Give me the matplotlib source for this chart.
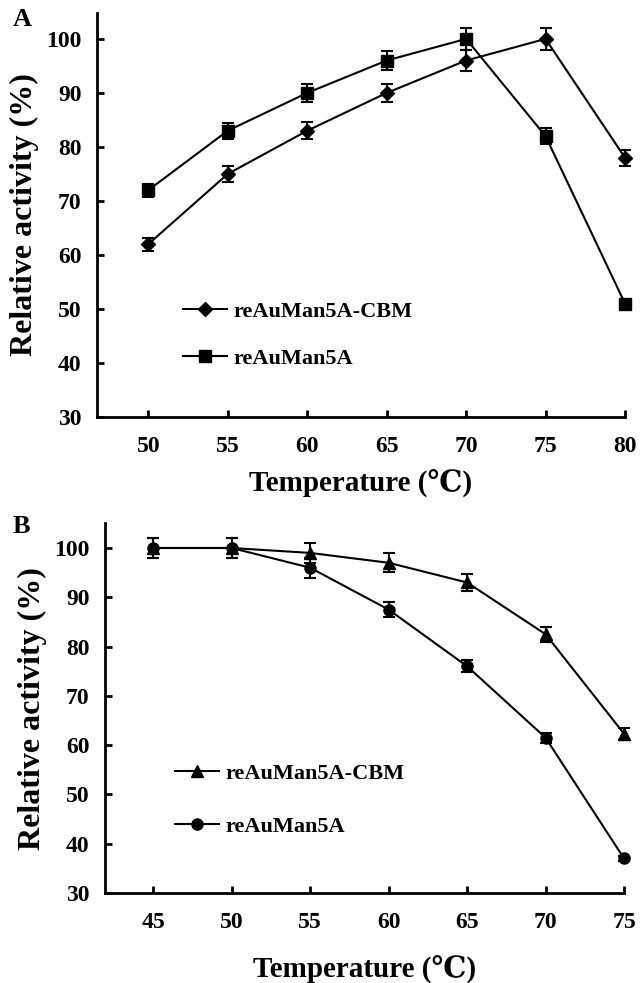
import numpy as np
import matplotlib.pyplot as plt

plt.rcParams['font.family'] = ['Liberation Serif', 'DejaVu Serif']
plt.rcParams['font.weight'] = 'bold'

# Panel A: optimal temperature
temp_a = [50, 55, 60, 65, 70, 75, 80]
cbm_a = [62, 75, 83, 90, 96, 100, 78]
cbm_a_err = [1.2, 1.5, 1.6, 1.7, 2.0, 2.0, 1.5]
man_a = [72, 83, 90, 96, 100, 82, 51]
man_a_err = [1.2, 1.5, 1.6, 1.8, 2.0, 1.5, 0.6]

# Panel B: thermostability
temp_b = [45, 50, 55, 60, 65, 70, 75]
cbm_b = [100, 100, 99, 97, 93, 82.5, 62.3]
cbm_b_err = [2.0, 2.0, 2.0, 1.9, 1.8, 1.5, 1.2]
man_b = [100, 100, 96, 87.5, 76, 61.5, 37]
man_b_err = [2.0, 2.0, 2.0, 1.5, 1.2, 1.0, 0.5]

yticks = [30, 40, 50, 60, 70, 80, 90, 100]

fig = plt.figure(figsize=(6.44, 9.83), dpi=100)
ax_a = fig.add_axes([0.1506, 0.5758, 0.8199, 0.411])
ax_b = fig.add_axes([0.163, 0.0916, 0.806, 0.376])


def draw(ax, x, s1, e1, m1, l1, s2, e2, m2, l2, xlim, ylim, ms1, ms2, xpad):
    for y, e, m, lab, ms in [(s1, e1, m1, l1, ms1), (s2, e2, m2, l2, ms2)]:
        ax.errorbar(x, y, yerr=e, color='black', marker=m, markersize=ms,
                    linewidth=1.5, elinewidth=1.5, capsize=4, capthick=1.5,
                    label=lab, clip_on=False)
    ax.set_xlim(*xlim)
    ax.set_ylim(*ylim)
    ax.set_xticks(x)
    ax.set_yticks(yticks)
    for side in ['top', 'right']:
        ax.spines[side].set_visible(False)
    for side in ['left', 'bottom']:
        ax.spines[side].set_linewidth(2)
    ax.tick_params(direction='in', length=5, width=2, labelsize=17)
    ax.tick_params(axis='x', pad=14)
    ax.tick_params(axis='y', pad=11)
    ax.set_xlabel('Temperature (℃)', fontsize=21, fontweight='bold', labelpad=xpad)
    ax.set_ylabel('Relative activity (%)', fontsize=23, fontweight='bold', labelpad=5)
    for lbl in ax.get_xticklabels() + ax.get_yticklabels():
        lbl.set_fontweight('bold')


draw(ax_a, temp_a, cbm_a, cbm_a_err, 'D', 'reAuMan5A-CBM',
     man_a, man_a_err, 's', 'reAuMan5A', (46.77, 80), (30, 104.8), 7.5, 8, 8)
draw(ax_b, temp_b, cbm_b, cbm_b_err, '^', 'reAuMan5A-CBM',
     man_b, man_b_err, 'o', 'reAuMan5A', (41.93, 75), (30, 105), 8.5, 8, 15)

for ax, bx, by, sp in [(ax_a, 0.163, 0.203, 1.2), (ax_b, 0.135, 0.251, 1.45)]:
    handles, labels = ax.get_legend_handles_labels()
    handles = [h[0] for h in handles]
    ax.legend(handles, labels, loc='center left', bbox_to_anchor=(bx, by),
              frameon=False, borderpad=0, borderaxespad=0, handlelength=2.0,
              handletextpad=0.25, labelspacing=sp,
              prop={'size': 16, 'weight': 'bold'})

fig.text(0.02, 0.9797, 'A', fontsize=19, fontweight='bold', va='center')
fig.text(0.019, 0.464, 'B', fontsize=19, fontweight='bold', va='center')

fig.savefig('out.png', dpi=100)
